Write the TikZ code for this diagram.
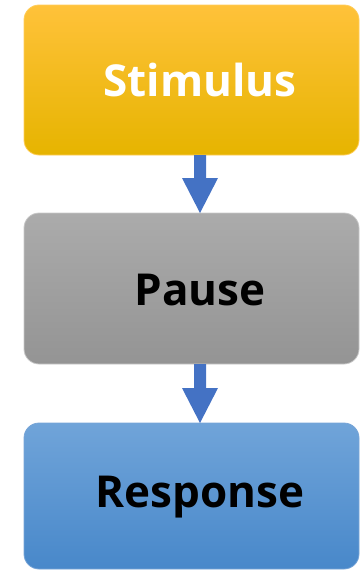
\documentclass[tikz,border=0pt]{standalone}
\usepackage{fontspec}
\setmainfont{Open Sans}
\usetikzlibrary{calc}
\definecolor{arrowblue}{HTML}{4472C4}
\tikzset{
  x=1pt, y=-1pt,
  stagebox/.style={rounded corners=15pt, line width=0.8pt},
  stagelabel/.style={font=\fontsize{44}{50}\selectfont\bfseries, inner sep=0pt},
  flowarrow/.style={fill=arrowblue, draw=none},
}
\begin{document}
\begin{tikzpicture}
\useasboundingbox (0,0) rectangle (360,570);
% stage boxes
\draw[stagebox, draw={rgb,255:red,255;green,205;blue,90}, top color={rgb,255:red,255;green,194;blue,58}, middle color={rgb,255:red,255;green,194;blue,0}, bottom color={rgb,255:red,230;green,180;blue,0}]
  (24,5) rectangle (359,155);
\draw[stagebox, draw={rgb,255:red,200;green,200;blue,200}, top color={rgb,255:red,171;green,171;blue,171}, bottom color={rgb,255:red,148;green,148;blue,148}]
  (24,213) rectangle (359,364);
\draw[stagebox, draw={rgb,255:red,120;green,165;blue,215}, top color={rgb,255:red,112;green,164;blue,217}, middle color={rgb,255:red,91;green,155;blue,218}, bottom color={rgb,255:red,72;green,136;blue,202}]
  (24,423) rectangle (359,569);
% labels
\node[stagelabel, text=white] (stim) at (200,80) {Stimulus};
\node[stagelabel, text=black] (pause) at (200,290) {Pause};
\node[stagelabel, text=black] (resp) at (200,497) {Response};
% anchors for the connectors
\coordinate (s1) at (200,155);
\coordinate (e1) at (200,213);
\coordinate (s2) at (200,364);
\coordinate (e2) at (200,423);
% block arrows
\fill[flowarrow] ($(s1)+(-6,0)$) -- ($(s1)+(6,0)$) -- (206,178) -- (218,178) -- (e1) -- (182,178) -- (194,178) -- cycle;
\fill[flowarrow] ($(s2)+(-6,0)$) -- ($(s2)+(6,0)$) -- (206,388) -- (218,388) -- (e2) -- (182,388) -- (194,388) -- cycle;
\end{tikzpicture}
\end{document}
